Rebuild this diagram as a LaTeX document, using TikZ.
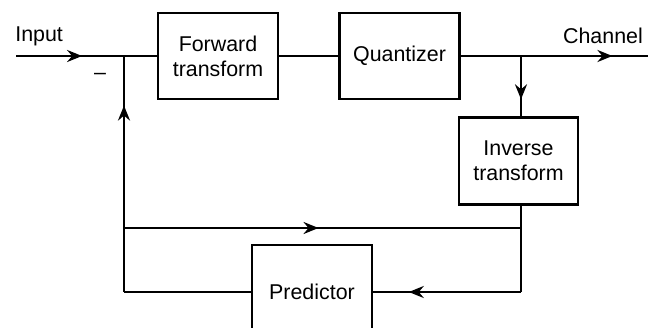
\documentclass[tikz,border=0pt]{standalone}
\usepackage{fontspec}
\setmainfont{Liberation Sans}
\usetikzlibrary{arrows.meta,decorations.markings}
\begin{document}
\begin{tikzpicture}[x=0.5pt,y=-0.5pt,line width=1.35pt,
  blk/.style={draw,line width=1.35pt,minimum width=60pt,minimum height=43pt,align=center,font=\fontsize{10.7}{12.5}\selectfont,inner sep=1pt},
  lbl/.style={font=\fontsize{10.7}{12.5}\selectfont,inner sep=0pt},
  midarr/.style={postaction={decorate},decoration={markings,mark=at position #1 with {\arrow{Stealth[length=7.5pt,width=6pt,inset=2.5pt]}}}}]
\useasboundingbox[fill=white] (0,0) rectangle (648,327);
\node[blk] (fwd) at (218,56) {Forward\\transform};
\node[blk] (quant) at (399.5,56) {Quantizer};
\node[blk,minimum width=59.5pt,minimum height=43.5pt] (inv) at (518.5,161) {Inverse\\transform};
\node[blk,minimum height=47pt] (pred) at (312,292) {Predictor};
\coordinate (in) at (16,56);
\coordinate (j1) at (124,56);
\coordinate (out) at (648,56);
\coordinate (br) at (521,56);
\coordinate (c1) at (521,228);
\coordinate (c2) at (521,292);
\coordinate (c3) at (124,228);
\coordinate (c4) at (124,292);
\node[lbl,anchor=west] (tin) at (14,36) {Input};
\node[lbl] (tch) at (603,36) {Channel};
\node[lbl] (tminus) at (100,76) {--};
\draw[midarr=0.47] (in) -- (fwd.west);
\draw (fwd.east) -- (quant.west);
\draw[midarr=0.81] (quant.east) -- (out);
\draw[midarr=0.72] (br) -- (inv.north -| br);
\draw (inv.south -| c2) -- (c2);
\draw[midarr=0.76] (c2) -- (pred.east);
\draw (pred.west) -- (c4);
\draw[midarr=0.79] (c4) -- (j1);
\draw[midarr=0.49] (c3) -- (c1);
\end{tikzpicture}
\end{document}
